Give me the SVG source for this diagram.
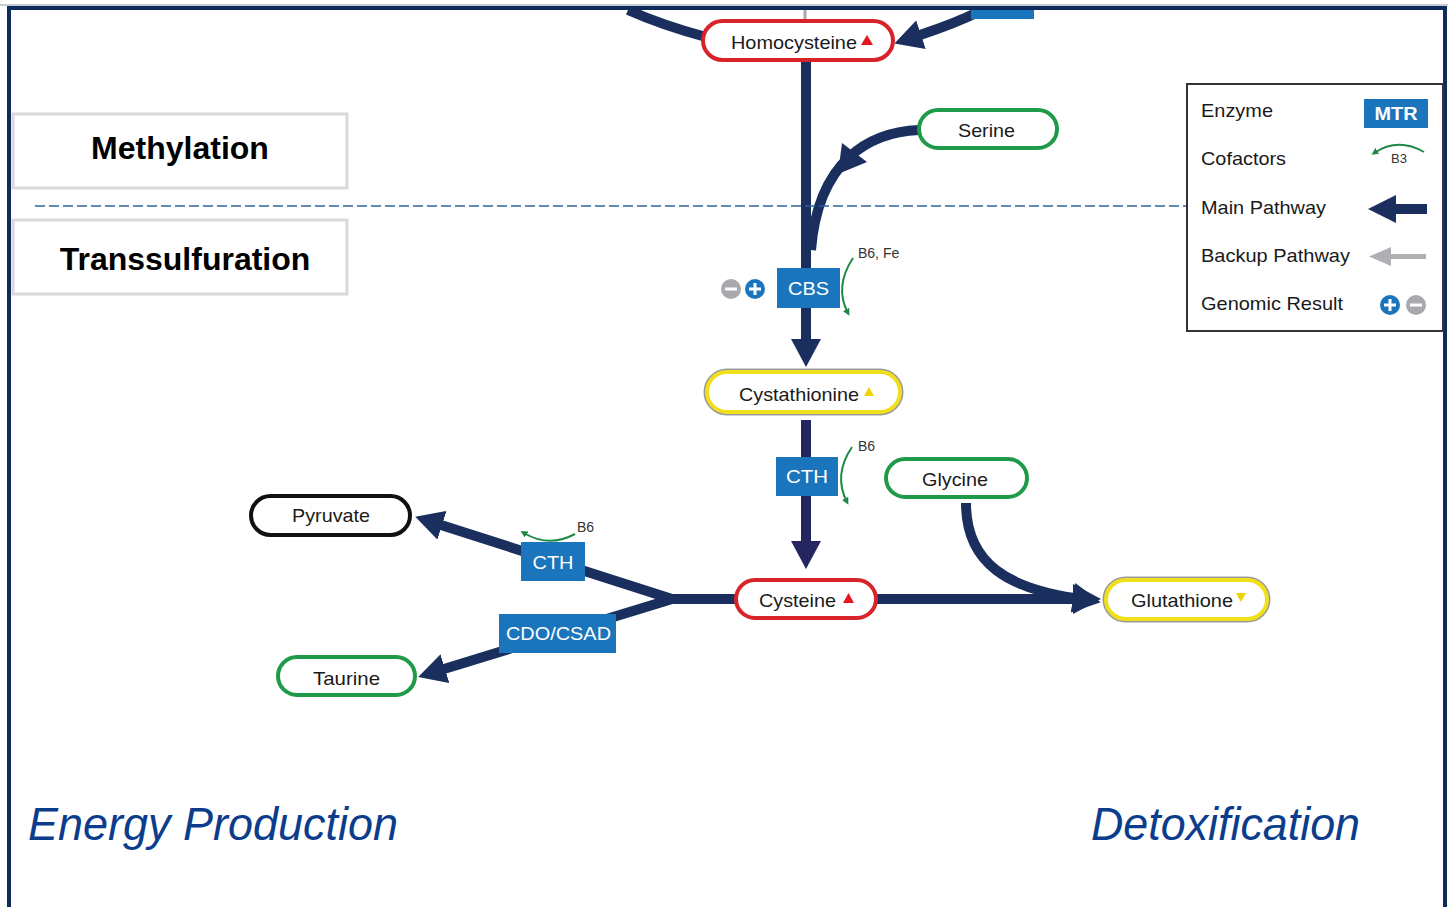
<svg xmlns="http://www.w3.org/2000/svg" width="1448" height="907" viewBox="0 0 1448 907">
<style>
.t{font-family:"Liberation Sans",Arial,sans-serif;font-size:19px;fill:#1a1a1a}
.c{text-anchor:middle}
.et{font-family:"Liberation Sans",Arial,sans-serif;font-size:19px;fill:#ffffff;text-anchor:middle}
.enz{fill:#1b75bc}
.main{fill:none;stroke:#1b2f5e;stroke-width:10}
.cof{fill:none;stroke:#1f8a45;stroke-width:2}
.sm{font-family:"Liberation Sans",Arial,sans-serif;font-size:14px;fill:#333}
.red{fill:#fff;stroke:#d9232a;stroke-width:4}
.grn{fill:#fff;stroke:#1f9a48;stroke-width:4}
.yel{fill:#fff;stroke:#f2df1c;stroke-width:4}
.yelo{fill:none;stroke:#9a9a9a;stroke-width:7}
.blk{fill:#fff;stroke:#111;stroke-width:4}
.hdr{font-family:"Liberation Sans",Arial,sans-serif;font-size:32px;font-weight:bold;fill:#000;text-anchor:middle}
.big{font-family:"Liberation Sans",Arial,sans-serif;font-size:46px;font-style:italic;fill:#0b3d8c}
</style>
<defs>
<marker id="ah" markerUnits="userSpaceOnUse" viewBox="0 0 28 30" markerWidth="28" markerHeight="30" refX="1" refY="15" orient="auto">
<path d="M0,0 L28,15 L0,30 Z" fill="#1b2f5e"/>
</marker>
<marker id="ah2" markerUnits="userSpaceOnUse" viewBox="0 0 28 30" markerWidth="28" markerHeight="30" refX="1" refY="15" orient="auto">
<path d="M0,0 L28,15 L0,30 Z" fill="#252660"/>
</marker>
<marker id="ca" markerUnits="userSpaceOnUse" viewBox="0 0 7 7" markerWidth="7" markerHeight="7" refX="4" refY="3.5" orient="auto">
<path d="M0,0 L7,3.5 L0,7 Z" fill="#1f8a45"/>
</marker>
<marker id="cas" markerUnits="userSpaceOnUse" viewBox="0 0 7 7" markerWidth="7" markerHeight="7" refX="3" refY="3.5" orient="auto-start-reverse">
<path d="M0,0 L7,3.5 L0,7 Z" fill="#1f8a45"/>
</marker>
</defs>
<rect x="0" y="0" width="1448" height="907" fill="#fff"/>

<g id="connectors">
<line x1="805" y1="10" x2="805" y2="22" stroke="#a8a8a8" stroke-width="3"/>
<path class="main" d="M 628 10 C 655 22 680 30 706 37"/>
<path class="main" d="M 978 12 C 958 22 938 29 920 35" marker-end="url(#ah)"/>
<path class="main" d="M 806 60 L 806 340" marker-end="url(#ah)"/>
<path class="main" d="M 919 130 C 870 132 818 160 811 250"/>
<polygon points="838,174 842,143 867,162" fill="#1b2f5e"/>
<path class="main" d="M 806 420 L 806 542" style="stroke:#252660" marker-end="url(#ah2)"/>
<path class="main" d="M 740 599 L 1074 599" marker-end="url(#ah)"/>
<path class="main" d="M 966 503 C 966 565 1010 588 1074 598" marker-end="url(#ah)"/>
<path class="main" d="M 740 599 L 672 599 L 441 525" stroke-linejoin="miter" marker-end="url(#ah)"/>
<path class="main" d="M 672 599 L 444 669" marker-end="url(#ah)"/>
<line x1="35" y1="206" x2="1187" y2="206" stroke="#2f629a" stroke-width="1.5" stroke-dasharray="10 4"/>
</g>

<g id="frame">
<line x1="0" y1="5" x2="1448" y2="5" stroke="#c8ccd4" stroke-width="2"/>
<rect x="9" y="8" width="1436" height="910" fill="none" stroke="#0d2c5c" stroke-width="4"/>
</g>

<g id="partial-enzyme"><rect x="971" y="10" width="63" height="9" class="enz"/></g>

<g id="methylation">
<rect x="13" y="114" width="334" height="74" fill="#fff" stroke="#d9d9d9" stroke-width="3"/>
<text class="hdr" x="180" y="159">Methylation</text>
</g>
<g id="transsulfuration">
<rect x="13" y="220" width="334" height="74" fill="#fff" stroke="#d9d9d9" stroke-width="3"/>
<text class="hdr" x="185" y="270">Transsulfuration</text>
</g>

<g id="homocysteine">
<rect class="red" x="703" y="21" width="190" height="39" rx="19.5"/>
<text class="t" x="731" y="49" textLength="126" lengthAdjust="spacingAndGlyphs">Homocysteine</text>
<polygon points="861,45 867,35 873,45" fill="#e5161d"/>
</g>

<g id="serine">
<rect class="grn" x="919" y="110" width="138" height="38" rx="19"/>
<text class="t" x="958" y="137" textLength="57" lengthAdjust="spacingAndGlyphs">Serine</text>
</g>

<g id="cbs">
<rect class="enz" x="777" y="268" width="63" height="40"/>
<text class="et" x="808.5" y="295" textLength="41" lengthAdjust="spacingAndGlyphs">CBS</text>
<path class="cof" d="M 853 258 Q 834 287 848 313" marker-end="url(#ca)"/>
<text class="sm" x="858" y="258">B6, Fe</text>
<circle cx="731" cy="289" r="10" fill="#a7a9ac"/>
<rect x="725" y="287.5" width="12" height="3" fill="#fff"/>
<circle cx="755" cy="289" r="10" fill="#1b75bc"/>
<rect x="749" y="287.5" width="12" height="3" fill="#fff"/>
<rect x="753.5" y="283" width="3" height="12" fill="#fff"/>
</g>

<g id="cystathionine">
<rect class="yelo" x="707" y="372" width="193" height="40" rx="20"/>
<rect class="yel" x="707" y="372" width="193" height="40" rx="20"/>
<text class="t" x="739" y="401" textLength="120" lengthAdjust="spacingAndGlyphs">Cystathionine</text>
<polygon points="864,396 869,387 874,396" fill="#f2d200"/>
</g>

<g id="cth1">
<rect class="enz" x="776" y="457" width="62" height="39"/>
<text class="et" x="807" y="483" textLength="42" lengthAdjust="spacingAndGlyphs">CTH</text>
<path class="cof" d="M 852 447 Q 833 475 847 502" marker-end="url(#ca)"/>
<text class="sm" x="858" y="451">B6</text>
</g>

<g id="glycine">
<rect class="grn" x="886" y="459" width="141" height="38" rx="19"/>
<text class="t" x="922" y="486" textLength="66" lengthAdjust="spacingAndGlyphs">Glycine</text>
</g>

<g id="cysteine">
<rect class="red" x="736" y="580" width="140" height="38" rx="19"/>
<text class="t" x="759" y="607" textLength="77" lengthAdjust="spacingAndGlyphs">Cysteine</text>
<polygon points="843,603 848.5,593 854,603" fill="#e5161d"/>
</g>

<g id="glutathione">
<rect class="yelo" x="1106" y="580" width="161" height="39" rx="19.5"/>
<rect class="yel" x="1106" y="580" width="161" height="39" rx="19.5"/>
<text class="t" x="1131" y="607" textLength="102" lengthAdjust="spacingAndGlyphs">Glutathione</text>
<polygon points="1236,593 1246,593 1241,602" fill="#f2d200"/>
</g>

<g id="cth2">
<rect class="enz" x="521" y="542" width="64" height="39"/>
<text class="et" x="553" y="569" textLength="41" lengthAdjust="spacingAndGlyphs">CTH</text>
<path class="cof" d="M 524 533 Q 549 548 575 534" marker-start="url(#cas)"/>
<text class="sm" x="577" y="532">B6</text>
</g>

<g id="cdo-csad">
<rect class="enz" x="499" y="614" width="117" height="39"/>
<text class="et" x="558.5" y="640" textLength="105" lengthAdjust="spacingAndGlyphs">CDO/CSAD</text>
</g>

<g id="pyruvate">
<rect class="blk" x="251" y="496" width="159" height="39" rx="19.5"/>
<text class="t" x="292" y="522" textLength="78" lengthAdjust="spacingAndGlyphs">Pyruvate</text>
</g>

<g id="taurine">
<rect class="grn" x="278" y="657" width="137" height="38" rx="19"/>
<text class="t" x="313" y="685" textLength="67" lengthAdjust="spacingAndGlyphs">Taurine</text>
</g>

<g id="legend">
<rect x="1187" y="84" width="256" height="247" fill="#fff" stroke="#333" stroke-width="2"/>
<text class="t" x="1201" y="117" textLength="72" lengthAdjust="spacingAndGlyphs">Enzyme</text>
<rect class="enz" x="1364" y="99" width="64" height="29"/>
<text class="et" x="1396" y="120" style="font-weight:bold" textLength="43" lengthAdjust="spacingAndGlyphs">MTR</text>
<text class="t" x="1201" y="165" textLength="85" lengthAdjust="spacingAndGlyphs">Cofactors</text>
<path class="cof" d="M 1424 152 Q 1398 137 1374 153" marker-end="url(#ca)"/>
<text class="sm" x="1399" y="163" style="text-anchor:middle;font-size:13px">B3</text>
<text class="t" x="1201" y="214" textLength="125" lengthAdjust="spacingAndGlyphs">Main Pathway</text>
<rect x="1394" y="204" width="33" height="10" fill="#1b2f5e"/>
<polygon points="1368,209 1396,195 1396,223" fill="#1b2f5e"/>
<text class="t" x="1201" y="262" textLength="149" lengthAdjust="spacingAndGlyphs">Backup Pathway</text>
<rect x="1388" y="254" width="38" height="5" fill="#aeb0b3"/>
<polygon points="1369,256.5 1391,247 1391,266" fill="#aeb0b3"/>
<text class="t" x="1201" y="310" textLength="142" lengthAdjust="spacingAndGlyphs">Genomic Result</text>
<circle cx="1390" cy="305" r="10" fill="#1b75bc"/>
<rect x="1384" y="303.5" width="12" height="3" fill="#fff"/>
<rect x="1388.5" y="299" width="3" height="12" fill="#fff"/>
<circle cx="1416" cy="305" r="10" fill="#a7a9ac"/>
<rect x="1410" y="303.5" width="12" height="3" fill="#fff"/>
</g>

<g id="labels">
<text class="big" x="28" y="840" textLength="370" lengthAdjust="spacingAndGlyphs">Energy Production</text>
<text class="big" x="1091" y="840" textLength="269" lengthAdjust="spacingAndGlyphs">Detoxification</text>
</g>
</svg>
